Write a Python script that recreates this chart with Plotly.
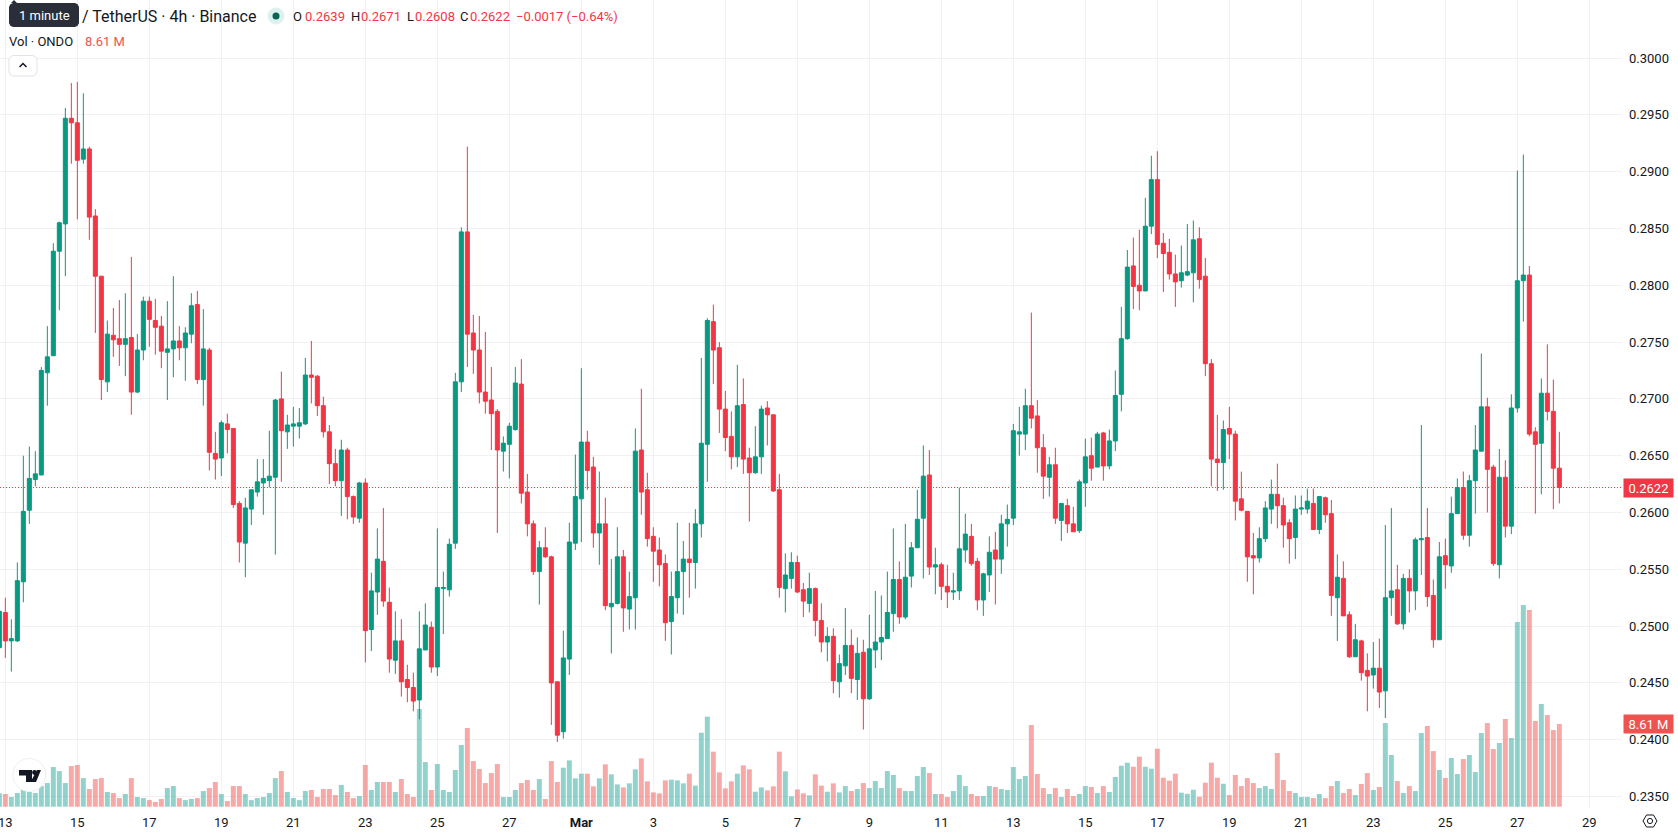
import pandas as pd
import plotly.graph_objects as go

# ONDO/USDT 4h candles, prices in ten-thousandths of a dollar, volume in millions
TICK = 0.0001
FIRST_BAR = "2025-02-12 20:00"
OPEN = [2481,2512,2487,2487,2539,2602,2629,2633,2723,2738,
2830,2854,2947,2943,2911,2920,2861,2808,2715,2756,
2753,2748,2754,2706,2743,2786,2769,2764,2741,2744,
2751,2745,2757,2783,2717,2743,2652,2648,2678,2674,
2608,2573,2603,2618,2626,2628,2631,2700,2671,2676,
2676,2678,2721,2720,2694,2671,2643,2628,2655,2614,
2595,2626,2497,2530,2557,2521,2470,2487,2453,2446,
2435,2479,2499,2464,2533,2532,2573,2715,2847,2758,
2743,2706,2699,2689,2654,2660,2673,2713,2618,2590,
2548,2569,2561,2451,2407,2471,2573,2612,2662,2640,
2582,2590,2517,2520,2561,2515,2525,2655,2620,2579,
2567,2555,2504,2525,2548,2559,2556,2590,2660,2768,
2745,2691,2667,2649,2695,2648,2635,2649,2692,2686,
2620,2533,2542,2556,2532,2520,2533,2505,2486,2491,
2451,2465,2483,2453,2477,2436,2479,2486,2489,2511,
2541,2508,2544,2569,2595,2633,2552,2554,2535,2530,
2531,2567,2579,2557,2523,2545,2567,2559,2590,2595,
2669,2669,2694,2685,2657,2631,2642,2593,2606,2590,
2584,2626,2650,2640,2670,2641,2663,2704,2753,2817,
2800,2795,2852,2893,2837,2829,2810,2804,2809,2811,
2841,2808,2731,2647,2644,2674,2669,2612,2601,2562,
2560,2577,2603,2616,2606,2591,2578,2603,2603,2608,
2585,2613,2599,2525,2542,2510,2473,2487,2461,2457,
2463,2443,2525,2532,2502,2542,2531,2576,2578,2527,
2488,2562,2553,2599,2622,2580,2628,2654,2693,2640,
2554,2631,2588,2692,2804,2809,2671,2661,2705,2689,2639]
HIGH = [2520,2525,2506,2556,2650,2658,2654,2728,2764,2837,
2856,2956,2978,2979,2969,2922,2867,2808,2769,2780,
2787,2793,2825,2757,2790,2790,2788,2773,2786,2808,
2764,2763,2793,2795,2779,2745,2671,2681,2687,2674,
2610,2613,2620,2647,2647,2672,2700,2724,2686,2693,
2692,2736,2751,2721,2702,2677,2656,2664,2657,2615,
2627,2630,2547,2586,2604,2534,2513,2506,2466,2459,
2513,2520,2504,2586,2548,2577,2723,2851,2922,2774,
2773,2759,2728,2691,2667,2679,2728,2735,2634,2593,
2575,2587,2562,2451,2496,2591,2651,2727,2672,2649,
2636,2613,2559,2587,2567,2548,2674,2709,2635,2587,
2578,2563,2548,2591,2575,2591,2603,2736,2771,2783,
2750,2707,2689,2730,2718,2657,2676,2694,2698,2686,
2634,2564,2565,2562,2538,2547,2534,2520,2499,2498,
2475,2516,2497,2490,2488,2510,2531,2527,2548,2586,
2557,2590,2574,2620,2659,2655,2569,2556,2554,2547,
2622,2599,2590,2560,2547,2579,2583,2598,2607,2678,
2693,2709,2776,2699,2669,2649,2657,2608,2612,2605,
2629,2665,2666,2671,2671,2673,2725,2781,2831,2842,
2849,2877,2914,2918,2846,2841,2827,2835,2854,2857,
2851,2824,2735,2686,2681,2693,2672,2636,2601,2582,
2587,2610,2629,2643,2613,2594,2615,2615,2621,2621,
2614,2614,2611,2563,2557,2513,2502,2488,2476,2486,
2489,2589,2604,2554,2546,2550,2578,2677,2604,2541,
2574,2577,2614,2630,2636,2633,2677,2740,2701,2642,
2656,2646,2704,2901,2915,2817,2675,2718,2748,2717,2671]
LOW = [2478,2472,2460,2486,2521,2590,2623,2633,2694,2738,
2778,2808,2907,2858,2907,2840,2758,2699,2706,2737,
2729,2720,2686,2705,2734,2746,2739,2727,2699,2719,
2734,2716,2749,2713,2694,2637,2629,2632,2652,2604,
2556,2543,2589,2614,2598,2622,2563,2627,2656,2658,
2665,2677,2696,2685,2666,2625,2623,2597,2594,2590,
2591,2468,2478,2510,2517,2459,2458,2438,2433,2425,
2418,2479,2459,2456,2493,2526,2568,2706,2728,2722,
2696,2687,2655,2582,2636,2630,2672,2608,2579,2545,
2519,2560,2413,2398,2401,2457,2567,2574,2620,2569,
2554,2514,2476,2519,2495,2497,2497,2598,2570,2539,
2535,2487,2475,2511,2510,2525,2533,2578,2627,2713,
2670,2654,2638,2640,2634,2592,2634,2634,2659,2618,
2525,2512,2533,2529,2508,2512,2491,2477,2469,2441,
2437,2457,2441,2435,2409,2435,2463,2470,2489,2495,
2502,2506,2534,2569,2542,2545,2528,2523,2516,2523,
2523,2556,2553,2514,2509,2530,2519,2546,2570,2589,
2650,2655,2674,2635,2612,2614,2590,2575,2582,2583,
2582,2605,2628,2640,2628,2638,2654,2689,2752,2779,
2778,2795,2845,2824,2794,2805,2781,2798,2808,2785,
2797,2720,2623,2619,2620,2647,2593,2601,2539,2528,
2556,2574,2590,2586,2569,2555,2559,2598,2599,2585,
2581,2591,2509,2487,2509,2472,2473,2452,2425,2445,
2428,2419,2509,2501,2497,2512,2514,2545,2517,2481,
2488,2533,2547,2599,2576,2570,2599,2654,2600,2553,
2542,2578,2581,2688,2768,2667,2599,2616,2681,2603,2608]
CLOSE = [2513,2487,2489,2540,2601,2630,2634,2725,2737,2830,
2855,2947,2943,2910,2920,2860,2808,2717,2757,2752,
2748,2753,2706,2743,2786,2770,2763,2742,2744,2751,
2745,2758,2782,2717,2744,2653,2647,2679,2673,2607,
2574,2604,2620,2627,2630,2632,2699,2672,2677,2678,
2679,2721,2719,2694,2671,2643,2628,2655,2614,2596,
2626,2496,2531,2559,2522,2471,2487,2451,2446,2434,
2480,2501,2464,2534,2534,2572,2715,2847,2757,2743,
2706,2698,2687,2655,2661,2676,2714,2617,2590,2548,
2569,2561,2450,2404,2472,2574,2614,2662,2637,2582,
2590,2518,2520,2561,2516,2526,2654,2618,2577,2566,
2554,2503,2526,2548,2559,2556,2590,2661,2769,2743,
2691,2666,2649,2694,2647,2635,2649,2691,2686,2619,
2534,2545,2556,2530,2522,2533,2505,2486,2491,2452,
2467,2483,2454,2476,2436,2480,2486,2490,2512,2541,
2508,2543,2569,2594,2632,2552,2554,2535,2530,2531,
2568,2581,2555,2523,2546,2565,2559,2590,2594,2672,
2671,2694,2683,2657,2632,2642,2595,2608,2590,2583,
2627,2649,2639,2669,2641,2663,2703,2753,2816,2799,
2795,2852,2893,2836,2828,2810,2803,2811,2812,2840,
2805,2731,2647,2644,2673,2669,2610,2602,2561,2560,
2577,2604,2616,2606,2589,2577,2603,2604,2610,2585,
2614,2598,2527,2543,2509,2473,2488,2459,2456,2463,
2442,2525,2531,2502,2542,2531,2576,2577,2526,2488,
2561,2554,2599,2622,2580,2628,2655,2693,2638,2555,
2631,2588,2692,2804,2809,2669,2660,2705,2689,2639,2622]
VOLUME = [1.39,1.32,1.01,1.42,1.74,1.53,1.42,2.15,2.46,4.13,3.71,2.46,4.23,4.34,2.98,1.84,2.88,2.98,1.53,1.42,
0.90,1.32,2.98,1.01,0.90,0.69,0.49,0.80,1.94,2.15,0.90,0.69,0.80,0.90,1.63,1.94,2.57,1.32,0.59,2.15,
2.15,1.32,0.69,0.90,1.01,1.42,2.98,3.71,
1.53,0.90,0.69,1.63,1.74,1.01,1.84,1.84,1.21,2.26,1.53,0.90,1.11,4.34,1.74,2.57,2.57,2.57,1.53,2.88,
1.32,1.01,10.17,4.65,1.74,4.44,1.74,1.53,3.82,6.42,8.19,4.75,3.92,2.46,3.50,4.44,1.01,1.01,1.74,2.46,
2.78,1.74,2.88,0.80,4.75,2.57,
4.06,4.82,2.95,3.44,3.44,2.12,2.95,4.41,3.37,2.32,2.01,2.43,3.89,5.03,2.64,1.49,1.39,2.74,2.81,2.74,
2.43,3.44,2.19,7.70,9.37,5.73,3.57,1.91,2.64,3.44,4.30,3.89,1.56,2.01,1.70,2.12,5.73,3.68,1.08,1.80,
1.39,1.18,3.37,2.19,1.56,2.43,1.49,
2.15,1.63,1.84,2.46,1.94,2.67,1.94,3.71,3.30,1.94,1.63,1.63,3.19,4.13,3.50,1.32,1.32,1.01,1.63,3.30,
2.15,1.32,1.11,1.11,2.15,2.05,1.84,1.74,4.13,2.88,3.19,8.50,3.40,1.94,1.32,1.94,1.01,1.84,1.11,1.32,
2.15,2.05,1.42,2.15,1.53,3.09,
4.27,4.58,4.16,5.21,4.16,3.96,6.04,3.02,2.71,3.44,1.46,1.35,1.77,1.04,2.50,4.58,3.02,2.39,
1.21,3.30,2.15,2.98,2.46,1.94,2.15,1.84,5.59,2.78,1.63,1.42,1.01,1.01,0.90,1.32,0.90,2.15,2.67,1.42,
1.84,1.21,2.36,3.50,1.74,2.05,8.71,5.38,2.67,1.42,2.15,1.63,7.67,8.40,5.79,3.82,2.98,5.07,3.40,4.96,5.38,
3.61,7.67,8.71,6.00,6.63,9.13,7.15,19.22,20.99,20.47,8.92,10.69,9.54,7.98,8.61]
DATE_TICKS = ["2025-02-%02d" % d for d in range(13, 28, 2)] + ["2025-03-%02d" % d for d in range(1, 30, 2)]
DATE_LABELS = [str(d) for d in range(13, 28, 2)] + ["<b>Mar</b>"] + [str(d) for d in range(3, 30, 2)]
PRICE_TICKS = [0.235 + 0.005 * k for k in range(14)]
LAST_PRICE = 0.2622
LAST_VOLUME = 8.61

assert len(OPEN) == len(HIGH) == len(LOW) == len(CLOSE) == len(VOLUME) == 261

UP, DOWN = "#089981", "#f23645"
INK = "#131722"
GRID = "#f1f1f3"
FONT = "Roboto"
W, H = 1678, 835
PLOT_W, PLOT_H = 1622, 808


def xp(px):
    return px / PLOT_W


def yp(px):
    return 1 - px / PLOT_H


def prices(values):
    return [round(v * TICK, 4) for v in values]


times = pd.date_range(FIRST_BAR, periods=len(OPEN), freq="4h")
start = pd.Timestamp("2025-02-13")
bar_ms = pd.Timedelta(hours=4)
x_left = start - bar_ms * (5.33 / 6)
x_right = start + bar_ms * ((PLOT_W - 5.33) / 6)

volume_colors = ["rgba(38,166,154,0.5)" if c >= o else "rgba(239,83,80,0.5)" for o, c in zip(OPEN, CLOSE)]

fig = go.Figure()
fig.add_trace(go.Bar(x=times, y=VOLUME, marker=dict(color=volume_colors, line_width=0), hoverinfo="skip", yaxis="y"))
fig.add_trace(go.Candlestick(
    x=times, open=prices(OPEN), high=prices(HIGH), low=prices(LOW), close=prices(CLOSE),
    increasing=dict(line=dict(color=UP, width=1), fillcolor=UP),
    decreasing=dict(line=dict(color=DOWN, width=1), fillcolor=DOWN),
    whiskerwidth=0, yaxis="y2", hoverinfo="skip",
))


def label(px, py, text, color=INK, size=13, anchor="left", **kw):
    return dict(xref="paper", yref="paper", x=xp(px), y=yp(py), text=text, showarrow=False,
                xanchor=anchor, yanchor="middle", font=dict(family=FONT, size=size, color=color), **kw)


annotations = [
    label(80, 16, "/ TetherUS · 4h · Binance", size=16),
    label(291, 16, "O"), label(303, 16, "0.2639", DOWN),
    label(349, 16, "H"), label(359, 16, "0.2671", DOWN),
    label(405, 16, "L"), label(413, 16, "0.2608", DOWN),
    label(458, 16, "C"), label(468, 16, "0.2622", DOWN),
    label(514, 16, "−0.0017 (−0.64%)", DOWN),
    label(7, 41, "Vol · ONDO"),
    label(83, 41, "8.61 M", "#ef5350"),
    label(44, 15, "1 minute", "#ffffff", anchor="center"),
    dict(xref="paper", yref="y2", x=xp(1623), y=LAST_PRICE, text=f"{LAST_PRICE:.4f}", showarrow=False,
         xanchor="left", yanchor="middle", width=47, height=16, bgcolor=DOWN, align="center",
         font=dict(family=FONT, size=13, color="#ffffff")),
    dict(xref="paper", yref="y", x=xp(1623), y=LAST_VOLUME, text=f"{LAST_VOLUME:.2f} M", showarrow=False,
         xanchor="left", yanchor="middle", width=47, height=16, bgcolor="#ef5350", align="center",
         font=dict(family=FONT, size=13, color="#ffffff")),
]


def path(points, close=True):
    parts = [f"{'M' if k == 0 else 'L'}{xp(a):.6f},{yp(b):.6f}" for k, (a, b) in enumerate(points)]
    return " ".join(parts) + (" Z" if close else "")


def shape_path(points, fill="rgba(0,0,0,0)", line=None, width=1, close=True):
    return dict(type="path", xref="paper", yref="paper", path=path(points, close), fillcolor=fill,
                line=dict(color=line or "rgba(0,0,0,0)", width=width), layer="above")


def circle(cx, cy, r, fill, line=None, width=1):
    return dict(type="circle", xref="paper", yref="paper", x0=xp(cx - r), x1=xp(cx + r), y0=yp(cy + r), y1=yp(cy - r),
                fillcolor=fill, line=dict(color=line or "rgba(0,0,0,0)", width=width), layer="above")


def round_rect(x0, y0, x1, y1, r, fill, line=None):
    pts = [(x0 + r, y0), (x1 - r, y0), (x1 - r / 3, y0 + r / 3), (x1, y0 + r), (x1, y1 - r), (x1 - r / 3, y1 - r / 3),
           (x1 - r, y1), (x0 + r, y1), (x0 + r / 3, y1 - r / 3), (x0, y1 - r), (x0, y0 + r), (x0 + r / 3, y0 + r / 3)]
    return shape_path(pts, fill, line)


shapes = [
    dict(type="line", xref="paper", yref="y2", x0=0, x1=1, y0=LAST_PRICE, y1=LAST_PRICE,
         line=dict(color=DOWN, width=1, dash="1px,2px"), layer="below"),
    # tooltip over the symbol name
    round_rect(9, 3, 79, 27, 4, "#2a2e39"),
    shape_path([(11, 3), (14, 0), (17, 3)], "#2a2e39"),
    # market status dot
    circle(276, 16, 8.5, "#dff1ee"),
    circle(276, 16, 3.5, "#056656"),
    # collapse button
    round_rect(9, 55.5, 37, 76, 4, "#ffffff", "#e0e3eb"),
    shape_path([(19.5, 67), (23, 63.5), (26.5, 67)], line=INK, width=1.5, close=False),
    # logo badge
    circle(29.3, 775, 16.5, "rgba(255,255,255,0.92)", "#eeeeee", 1),
    shape_path([(19, 770), (32, 770), (32, 782), (26, 782), (26, 775.5), (19, 775.5)], INK),
    circle(34.5, 772.5, 2.4, INK),
    shape_path([(37, 770), (41, 770), (36, 782), (30.5, 782)], INK),
    # settings icon
    shape_path([(1643, 821), (1646.5, 815), (1653.5, 815), (1657, 821), (1653.5, 827), (1646.5, 827)], line=INK),
    circle(1650, 821, 2.6, "rgba(0,0,0,0)", INK),
]

fig.update_layout(
    width=W, height=H, autosize=False, showlegend=False,
    margin=dict(l=0, r=W - PLOT_W, t=0, b=H - PLOT_H, pad=0, autoexpand=False),
    paper_bgcolor="#ffffff", plot_bgcolor="#ffffff",
    bargap=0.17, boxgap=0.33, boxgroupgap=0, hovermode=False,
    font=dict(family=FONT, size=13, color=INK),
    annotations=annotations, shapes=shapes,
    xaxis=dict(type="date", range=[x_left, x_right], rangeslider=dict(visible=False),
               tickmode="array", tickvals=DATE_TICKS, ticktext=DATE_LABELS,
               showgrid=True, gridcolor=GRID, gridwidth=1, zeroline=False, showline=False,
               ticks="", ticklabelstandoff=5, ticklabeloverflow="allow",
               tickfont=dict(family=FONT, size=13, color=INK), tickangle=0),
    yaxis=dict(visible=False, range=[-0.135, 83.98], showgrid=False, zeroline=False, fixedrange=True),
    yaxis2=dict(overlaying="y", side="right", range=[0.23399, 0.30511], tickmode="array",
                tickvals=PRICE_TICKS, ticktext=[f"{v:.4f}" for v in PRICE_TICKS],
                showgrid=True, gridcolor=GRID, gridwidth=1, zeroline=False, showline=False,
                ticks="", ticklabelstandoff=6, tickfont=dict(family=FONT, size=13, color=INK)),
)

fig.write_html("out.html", config=dict(displayModeBar=False))
